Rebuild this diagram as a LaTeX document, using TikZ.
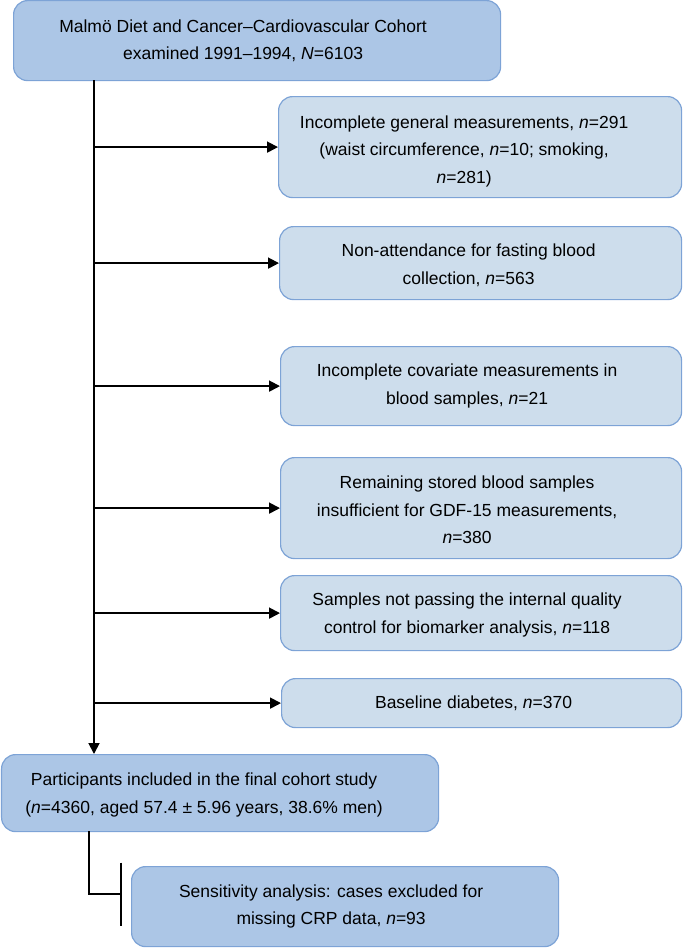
\documentclass[tikz,border=0pt]{standalone}
\usepackage{fontspec}
\setmainfont{Liberation Sans}
\usetikzlibrary{arrows.meta}
\definecolor{boxdark}{RGB}{172,198,230}
\definecolor{boxlight}{RGB}{205,221,236}
\definecolor{boxline}{RGB}{125,163,214}
\begin{document}
\begin{tikzpicture}[x=1pt,y=-1pt,
        flowbox/.style={anchor=north west,draw=boxline,line width=1.2pt,rounded corners=14pt,inner sep=0pt},
        mainbox/.style={flowbox,fill=boxdark},
        exclbox/.style={flowbox,fill=boxlight},
        boxtext/.style={inner sep=0pt,align=center,font=\fontsize{17.5}{27.5}\selectfont},
        flowline/.style={line width=1.8pt,-{Triangle[length=11pt,width=11pt]}}]
                \useasboundingbox (0,0) rectangle (685,948);
                %% main cohort
                \node[mainbox,minimum width=487pt,minimum height=80pt] (cohort) at (13,0) {};
                %% exclusions
                \node[exclbox,minimum width=403pt,minimum height=101pt] (general) at (278,96) {};
                \node[exclbox,minimum width=402pt,minimum height=73pt] (fasting) at (279,226) {};
                \node[exclbox,minimum width=401pt,minimum height=79pt] (covariate) at (280,346) {};
                \node[exclbox,minimum width=401pt,minimum height=101pt] (stored) at (280,457) {};
                \node[exclbox,minimum width=401pt,minimum height=75pt] (quality) at (280,575) {};
                \node[exclbox,minimum width=400pt,minimum height=49pt] (diabetes) at (281,678) {};
                %% final cohort and sensitivity analysis
                \node[mainbox,minimum width=437pt,minimum height=77pt] (final) at (1,754) {};
                \node[mainbox,minimum width=427pt,minimum height=80pt] (sens) at (131,866) {};
                %% texts
                \node[boxtext] (cohorttext) at ([xshift=-14pt]cohort.center)
                    {Malmö Diet and Cancer–Cardiovascular Cohort\\examined 1991–1994, \textit{N}=6103};
                \node[boxtext] (generaltext) at ([xshift=-16pt,yshift=-4pt]general.center)
                    {Incomplete general measurements, \textit{n}=291\\(waist circumference, \textit{n}=10; smoking,\\\textit{n}=281)};
                \node[boxtext] (fastingtext) at ([xshift=-12pt,yshift=-2pt]fasting.center)
                    {Non-attendance for fasting blood\\collection, \textit{n}=563};
                \node[boxtext] (covariatetext) at ([xshift=-14pt]covariate.center)
                    {Incomplete covariate measurements in\\blood samples, \textit{n}=21};
                \node[boxtext] (storedtext) at ([xshift=-14pt,yshift=-2pt]stored.center)
                    {Remaining stored blood samples\\insufficient for GDF-15 measurements,\\\textit{n}=380};
                \node[boxtext] (qualitytext) at ([xshift=-14pt,yshift=-2pt]quality.center)
                    {Samples not passing the internal quality\\control for biomarker analysis, \textit{n}=118};
                \node[boxtext] (diabetestext) at ([xshift=-8pt]diabetes.center)
                    {Baseline diabetes, \textit{n}=370};
                \node[boxtext] (finaltext) at ([xshift=-16pt,yshift=-2pt]final.center)
                    {Participants included in the final cohort study\\(\textit{n}=4360, aged 57.4 ± 5.96 years, 38.6\% men)};
                \node[boxtext] (senstext) at ([xshift=-14pt]sens.center)
                    {Sensitivity analysis: cases excluded for\\missing CRP data, \textit{n}=93};
                %% connectors
                \coordinate (trunk) at (94,80);
                \draw[flowline] (trunk) -- (trunk |- final.north);
                \foreach \b in {general,fasting,covariate,stored,quality,diabetes}
                    \draw[flowline] (trunk |- \b.west) -- (\b.west);
                \coordinate (stem) at (89,831);
                \coordinate (stop) at (122,894);
                \draw[line width=1.8pt,-{Bar[width=63pt]}] (stem) |- (stop);
            \end{tikzpicture}
\end{document}
